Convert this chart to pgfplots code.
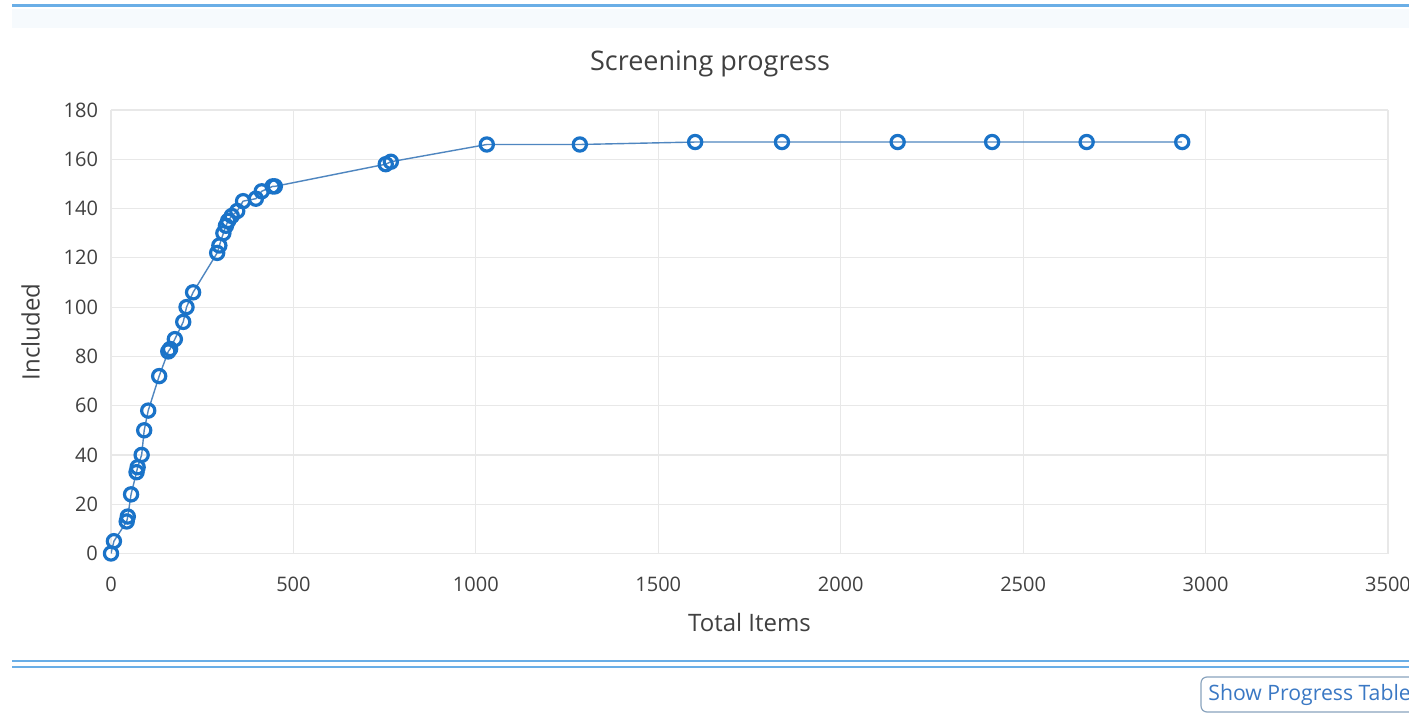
\documentclass[border=0pt]{standalone}
\usepackage{pgfplots}
\pgfplotsset{compat=1.18}
\usepackage{fontspec}
\setmainfont{Open Sans}
\definecolor{txt}{HTML}{404040}
\definecolor{gridc}{HTML}{E8E8E8}
\definecolor{ptc}{HTML}{1A73C8}
\definecolor{linec}{HTML}{4F86C0}
\definecolor{band}{HTML}{6AAEE6}
\definecolor{btnb}{HTML}{8AA4BE}
\definecolor{btnt}{HTML}{3A78C4}
\begin{document}
\begin{tikzpicture}
\begin{scope}[x=0.5pt,y=0.5pt]
\fill[white] (0,0) rectangle (1409,718);
\draw[band, line width=1.5pt] (12,712) -- (1409,712);
\fill[band!6] (12,690) rectangle (1409,709);
\node[txt, font=\fontsize{13.5}{16}\selectfont] at (710,654) {Screening progress};
\draw[band, line width=1.3pt] (12,57) -- (1409,57);
\draw[band, line width=0.9pt] (12,51) -- (1409,51);
\begin{scope}
\clip (0,0) rectangle (1409,718);
\draw[rounded corners=3pt, draw=btnb, line width=0.6pt, fill=white] (1201,6) rectangle (1430,41);
\node[btnt, anchor=west, inner sep=0pt, font=\fontsize{10.6}{12}\selectfont] at (1208,23.5) {Show Progress Table};
\end{scope}
\end{scope}
\begin{axis}[
  at={(55.5pt,82.25pt)}, anchor=south west,
  scale only axis, width=638.5pt, height=221.75pt,
  xmin=0, xmax=3500, ymin=0, ymax=180,
  xtick={0,500,...,3500}, ytick={0,20,...,180},
  grid=major, major grid style={draw=gridc, line width=0.6pt},
  axis line style={draw=none}, tick style={draw=none},
  /pgf/number format/assume math mode=true,
  /pgf/number format/1000 sep={},
  tick label style={txt, font=\fontsize{10}{12}\selectfont},
  xticklabel style={yshift=-8pt},
  yticklabel style={xshift=-3pt},
  xlabel={Total Items}, ylabel={Included},
  label style={txt, font=\fontsize{12}{14}\selectfont},
  xlabel style={yshift=-4pt},
  ylabel style={yshift=5pt},
]
\addplot[linec, line width=0.7pt, mark=o, mark size=3.3pt,
  mark options={draw=ptc, line width=1.6pt, fill=white}] coordinates {
(0,0) (8,5) (43,13) (46,15) (55,24) (70,33) (73,35) (84,40) (91,50)
(102,58) (132,72) (157,82) (162,83) (175,87) (198,94) (207,100) (225,106)
(291,122) (297,125) (308,130) (315,133) (321,135) (331,137) (346,139)
(362,143) (397,144) (413,147) (443,149) (449,149) (753,158) (767,159)
(1030,166) (1285,166) (1601,167) (1839,167) (2156,167) (2415,167)
(2674,167) (2936,167)
};
\end{axis}
\pgfresetboundingbox
\path[use as bounding box] (0,0) rectangle (704.5pt,359pt);
\end{tikzpicture}
\end{document}
